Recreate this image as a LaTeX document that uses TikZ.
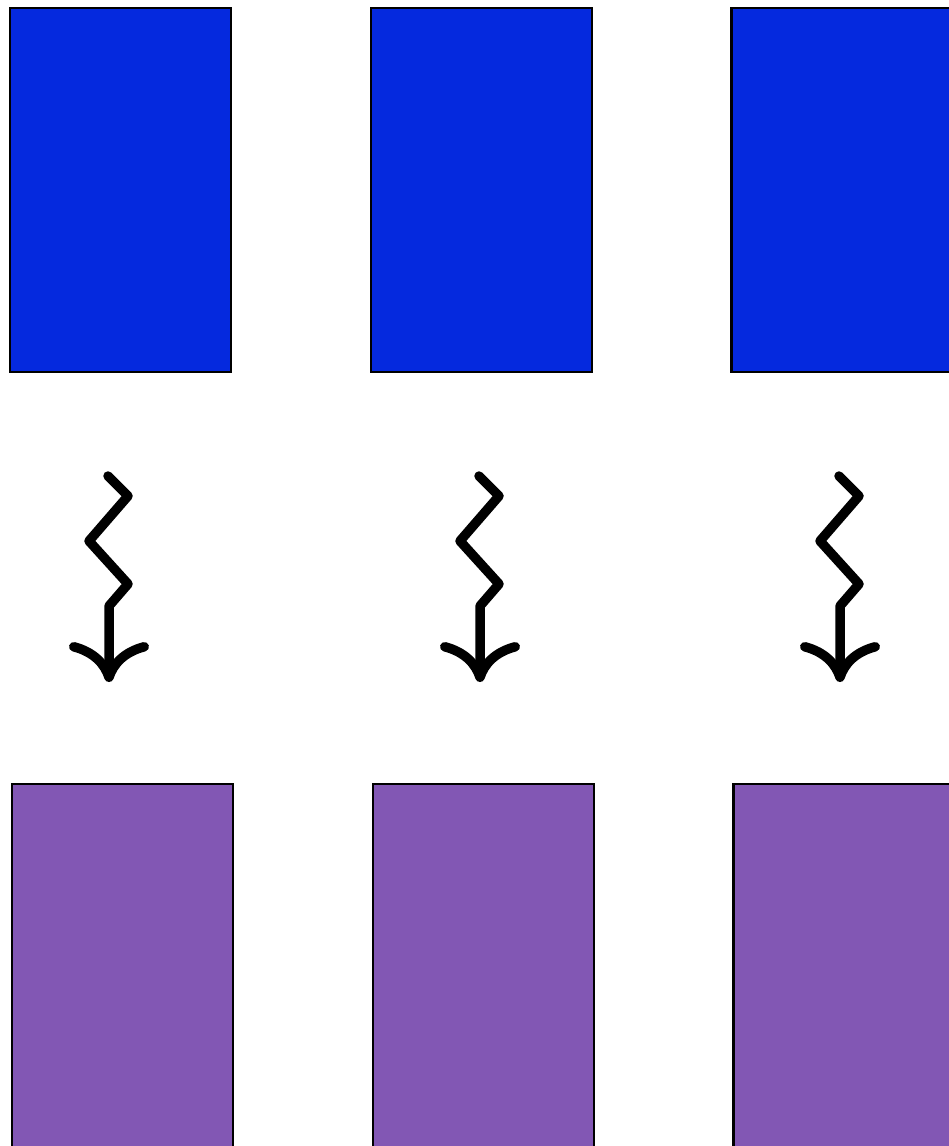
\documentclass[tikz,border=0pt]{standalone}
\usepackage{xcolor}
\definecolor{topblue}{RGB}{5,41,222}
\definecolor{botpurple}{RGB}{130,87,180}
\usepackage{tikz}
\usetikzlibrary{arrows.meta,positioning}
\tikzset{
  blk_top/.style={rectangle,
    draw=black,fill=topblue,line width=2.2pt,
    minimum width=221pt,minimum height=364pt,
    inner sep=0pt,anchor=north west},
  blk_bot/.style={rectangle,
    draw=black,fill=botpurple,line width=2.2pt,
    minimum width=221pt,minimum height=364pt,
    inner sep=0pt,anchor=north west},
  zig/.style={line width=9.5pt,line cap=round,line join=round,
    -{Computer Modern Rightarrow[length=40pt,width=80pt]}},
}

\begin{document}
\begin{tikzpicture}[x=1pt,y=-1pt]
  \useasboundingbox (0,0) rectangle (949,1146);
  \clip (0,0) rectangle (949,1146);

  % top row
  \node (t1) [blk_top] at (9,7) {};
  \node (t2) [blk_top, right=138pt of t1.north east, anchor=north west] {};
  \node (t3) [blk_top, right=137pt of t2.north east, anchor=north west] {};

  % bottom row
  \node (b1) [blk_bot] at (11,783) {};
  \node (b2) [blk_bot, right=138pt of b1.north east, anchor=north west] {};
  \node (b3) [blk_bot, right=137pt of b2.north east, anchor=north west] {};

  % zigzag arrows
  \coordinate (z1) at (108,476);
  \coordinate (z2) at (479,476);
  \coordinate (z3) at (839,476);

  \draw[zig] (z1) -- ++(20,20) -- ++(-39,45) -- ++(39,43) -- ++(-19,22) -- ++(0,76);
  \draw[zig] (z2) -- ++(20,20) -- ++(-39,45) -- ++(39,43) -- ++(-19,22) -- ++(0,76);
  \draw[zig] (z3) -- ++(20,20) -- ++(-39,45) -- ++(39,43) -- ++(-19,22) -- ++(0,76);
\end{tikzpicture}
\end{document}
